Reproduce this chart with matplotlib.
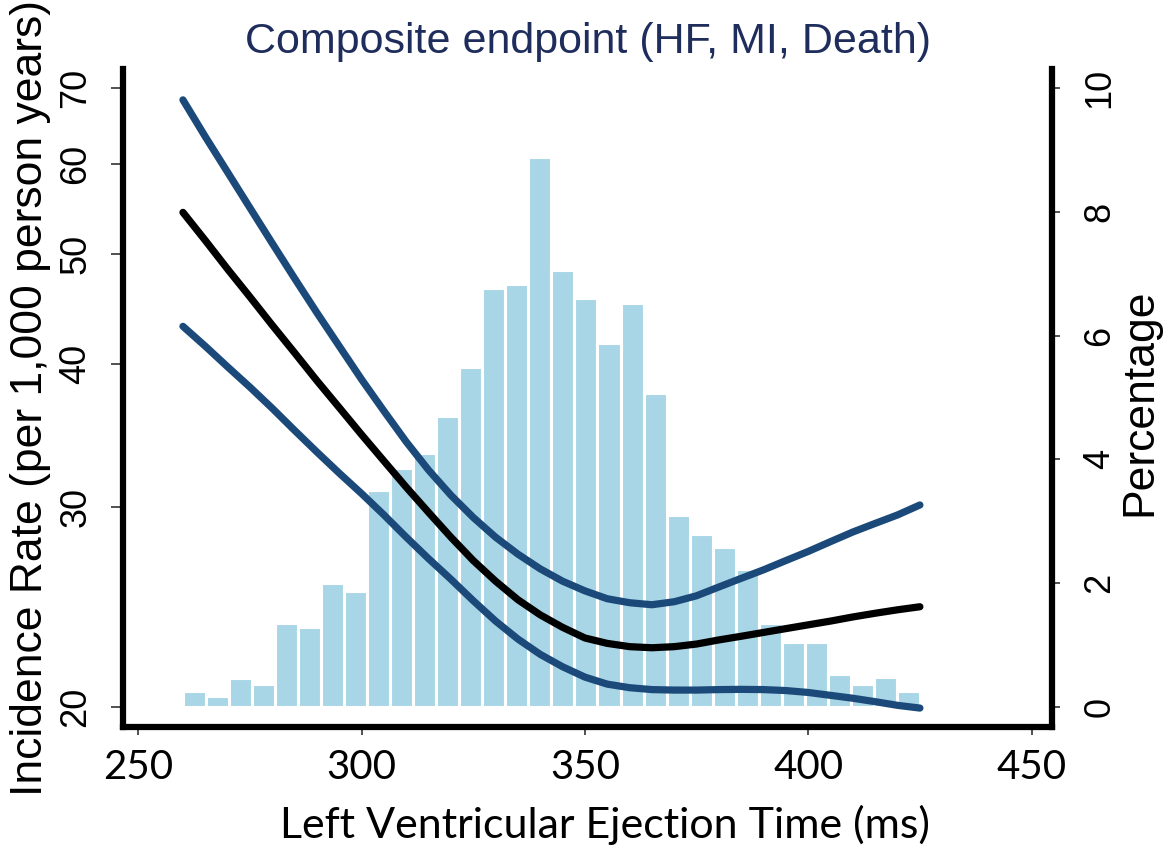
import matplotlib
matplotlib.use("Agg")
import matplotlib.pyplot as plt
import numpy as np
from matplotlib.ticker import NullLocator

# distribution of LVET, percentage per bin (32 bins from 260 to 425 ms)
bin_start = 260.0
bin_width = 165.0 / 32
pct = [0.26, 0.17, 0.47, 0.37, 1.35, 1.29, 2.01, 1.88,
       3.51, 3.86, 4.10, 4.70, 5.49, 6.77, 6.83, 8.89,
       7.06, 6.61, 5.88, 6.52, 5.07, 3.11, 2.80, 2.58,
       2.23, 1.35, 1.05, 1.05, 0.53, 0.37, 0.48, 0.26]

# incidence rate per 1,000 person years, fit and 95% band
lvet = [260, 265, 270, 275, 280, 285, 290, 295, 300, 305, 310, 315,
        320, 325, 330, 335, 340, 345, 350, 355, 360, 365, 370, 375,
        380, 385, 390, 395, 400, 405, 410, 415, 420, 425]
rate_mid = [54.4, 51.4, 48.5, 45.85, 43.3, 40.95, 38.7, 36.65, 34.7, 32.9, 31.2, 29.65,
            28.2, 26.9, 25.8, 24.85, 24.1, 23.5, 23.0, 22.75, 22.6, 22.55, 22.6, 22.72,
            22.91, 23.08, 23.26, 23.44, 23.62, 23.8, 24.0, 24.18, 24.35, 24.5]
rate_hi = [68.3, 63.4, 59.0, 54.9, 51.1, 47.6, 44.4, 41.5, 38.8, 36.4, 34.2, 32.3,
           30.7, 29.35, 28.2, 27.25, 26.45, 25.8, 25.3, 24.9, 24.7, 24.6, 24.75, 25.05,
           25.5, 25.95, 26.4, 26.9, 27.4, 27.95, 28.5, 29.0, 29.5, 30.1]
rate_lo = [43.2, 41.5, 39.8, 38.2, 36.6, 35.0, 33.5, 32.1, 30.8, 29.5, 28.2, 27.0,
           25.9, 24.8, 23.8, 22.95, 22.25, 21.7, 21.25, 20.95, 20.8, 20.72, 20.7, 20.7,
           20.72, 20.73, 20.72, 20.68, 20.6, 20.48, 20.36, 20.22, 20.07, 19.96]

rate_ticks = [20, 30, 40, 50, 60, 70]
pct_ticks = [0, 2, 4, 6, 8, 10]
x_ticks = [250, 300, 350, 400, 450]

BAR = "#a9d6e6"
NAVY = "#1b4a7a"
TITLE = "#1f2d5c"
ARIAL = "Liberation Sans"
CALIBRI = "Lato"
SPINE_W = 4.5

fig = plt.figure(figsize=(11.68, 8.55), dpi=100)
ax = fig.add_axes([0.105, 0.1497, 0.7954, 0.7696])
ax2 = ax.twinx()
ax.set_zorder(ax2.get_zorder() + 1)
ax.patch.set_visible(False)

# histogram on the right axis
centers = bin_start + bin_width * (np.arange(len(pct)) + 0.5)
ax2.bar(centers, pct, width=bin_width, color=BAR, edgecolor="white", linewidth=2.2)
ax2.set_ylim(-0.323, 10.307)
ax2.set_yticks(pct_ticks)
ax2.set_yticklabels([str(t) for t in pct_ticks], family=ARIAL)

# curves on the left (log) axis
for y, c in ((rate_hi, NAVY), (rate_lo, NAVY), (rate_mid, "black")):
    ax.plot(lvet, y, color=c, lw=5.2, solid_capstyle="round", solid_joinstyle="round")
ax.set_yscale("log")
ax.set_ylim(19.21, 72.7)
ax.set_yticks(rate_ticks)
ax.set_yticklabels([str(t) for t in rate_ticks], family=ARIAL)
ax.yaxis.set_minor_locator(NullLocator())
ax.set_xlim(246.5, 454.5)
ax.set_xticks(x_ticks)
ax.set_xticklabels([str(t) for t in x_ticks], family=CALIBRI)

for a in (ax, ax2):
    a.spines["top"].set_visible(False)
ax.spines["right"].set_visible(False)
ax2.spines["left"].set_visible(False)
ax2.spines["bottom"].set_visible(False)
for sp in (ax.spines["left"], ax.spines["bottom"], ax2.spines["right"]):
    sp.set_linewidth(SPINE_W)
    sp.set_capstyle("projecting")

ax.tick_params(axis="y", which="major", direction="out", length=9, width=1.2,
               pad=12, labelsize=26, labelrotation=90, color="#333333")
ax2.tick_params(axis="y", direction="out", length=6, width=1.2,
                pad=16, labelsize=26, labelrotation=90, color="#333333")
ax.tick_params(axis="x", direction="out", length=6, width=1.2,
               pad=10, labelsize=29, color="#333333")
for lab in ax.get_yticklabels() + ax2.get_yticklabels():
    lab.set_va("center")

fig.text(0.026, 0.535, "Incidence Rate (per 1,000 person years)", rotation=90,
         ha="center", va="center", fontsize=32, family=ARIAL)
fig.text(0.976, 0.53, "Percentage", rotation=90,
         ha="center", va="center", fontsize=32, family=ARIAL)
fig.text(0.518, 0.035, "Left Ventricular Ejection Time (ms)",
         ha="center", va="center", fontsize=31, family=CALIBRI)
fig.text(0.503, 0.951, "Composite endpoint (HF, MI, Death)",
         ha="center", va="center", fontsize=31, family=ARIAL, color=TITLE)

fig.savefig("out.png", dpi=100)
